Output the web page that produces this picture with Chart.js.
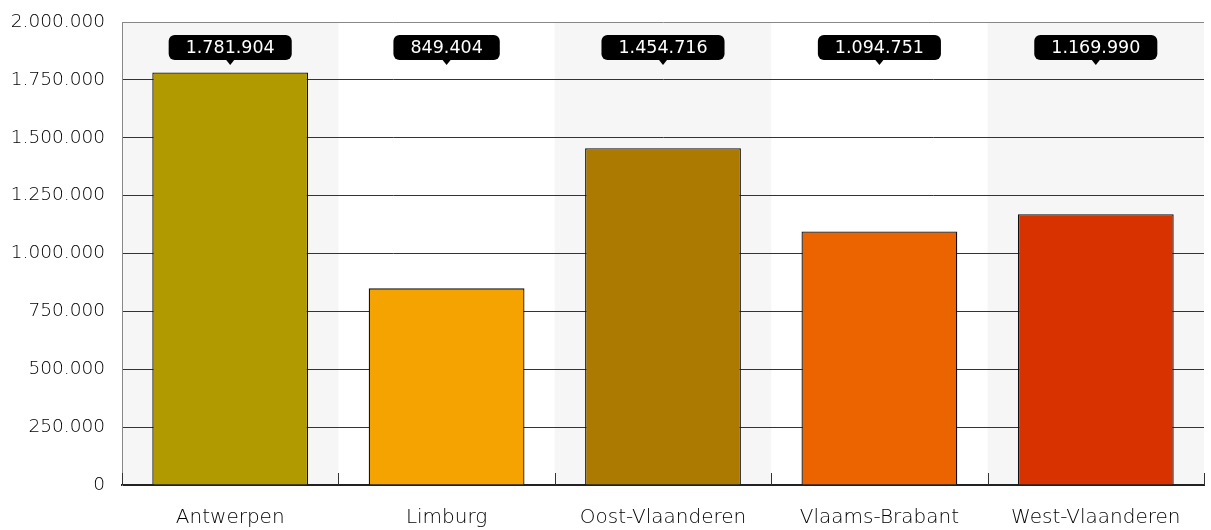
<!DOCTYPE html>
<html>
<head>
<meta charset="utf-8">
<script src="https://cdn.jsdelivr.net/npm/chart.js@4"></script>
<style>
  html, body { margin: 0; padding: 0; background: #fff; }
  #wrap { width: 1211px; height: 530px; }
</style>
</head>
<body>
<div id="wrap"><canvas id="provChart"></canvas></div>
<script>
// Inwoners per provincie
const provinces = ['Antwerpen', 'Limburg', 'Oost-Vlaanderen', 'Vlaams-Brabant', 'West-Vlaanderen'];
const population = [1781904, 849404, 1454716, 1094751, 1169990];
const barColors = ['#b09a00', '#f4a300', '#ac7a00', '#ec6400', '#d83200'];
const yTicks = [0, 250000, 500000, 750000, 1000000, 1250000, 1500000, 1750000, 2000000];

const FONT = '"DejaVu Sans", sans-serif';
const WEIGHT = 200;

// 1234567 -> 1.234.567
const fmt = v => String(Math.round(v)).replace(/\B(?=(\d{3})+(?!\d))/g, '.');

// grey bands behind every other category
const bandPlugin = {
  id: 'bands',
  beforeDraw(chart) {
    const { ctx, chartArea: a, scales: { x } } = chart;
    const half = (x.getPixelForValue(1) - x.getPixelForValue(0)) / 2;
    ctx.save();
    ctx.fillStyle = '#f6f6f6';
    provinces.forEach((p, i) => {
      if (i % 2) return;
      const c = x.getPixelForValue(i);
      ctx.fillRect(c - half, a.top, half * 2, a.bottom - a.top);
    });
    ctx.restore();
  }
};

// small ticks on the category axis + value callouts at the top
const labelPlugin = {
  id: 'callouts',
  afterDraw(chart) {
    const { ctx, chartArea: a, scales: { x } } = chart;
    const half = (x.getPixelForValue(1) - x.getPixelForValue(0)) / 2;
    ctx.save();
    ctx.strokeStyle = '#333';
    ctx.lineWidth = 1;
    for (let i = 0; i <= provinces.length; i++) {
      const px = Math.round(x.getPixelForValue(0) - half + i * half * 2) + 0.5;
      ctx.beginPath();
      ctx.moveTo(px, a.bottom - 12);
      ctx.lineTo(px, a.bottom);
      ctx.stroke();
    }

    ctx.font = '17.5px ' + FONT;
    ctx.textAlign = 'center';
    ctx.textBaseline = 'middle';
    population.forEach((v, i) => {
      const txt = fmt(v);
      const cx = x.getPixelForValue(i);
      const w = ctx.measureText(txt).width + 34;
      const h = 25;
      const top = a.top + 13;
      ctx.fillStyle = '#000';
      ctx.beginPath();
      ctx.roundRect(cx - w / 2, top, w, h, 6);
      ctx.fill();
      ctx.beginPath();
      ctx.moveTo(cx - 4, top + h);
      ctx.lineTo(cx, top + h + 5);
      ctx.lineTo(cx + 4, top + h);
      ctx.fill();
      ctx.fillStyle = '#fff';
      ctx.fillText(txt, cx, top + h / 2 + 1);
    });
    ctx.restore();
  }
};

new Chart(document.getElementById('provChart'), {
  type: 'bar',
  data: {
    labels: provinces,
    datasets: [{
      data: population,
      backgroundColor: barColors,
      borderColor: '#111',
      borderWidth: 1.3,
      barPercentage: 0.72,
      categoryPercentage: 1,
    }],
  },
  options: {
    responsive: true,
    maintainAspectRatio: false,
    animation: false,
    layout: { padding: { top: 22, right: 7, left: 0, bottom: 0 } },
    plugins: {
      legend: { display: false },
      tooltip: { enabled: false },
    },
    scales: {
      x: {
        grid: { display: false },
        border: { color: '#222', width: 2 },
        ticks: { color: '#000', font: { family: FONT, size: 20, weight: WEIGHT }, padding: 13 },
        afterFit: s => { s.height = 45; s.paddingLeft = 0; s.paddingRight = 0; },
      },
      y: {
        min: 0,
        max: 2000000,
        afterBuildTicks: s => { s.ticks = yTicks.map(v => ({ value: v })); },
        grid: {
          drawTicks: false,
          color: c => (c.tick && c.tick.value === 2000000 ? '#888' : '#333'),
        },
        border: { color: '#888', width: 1 },
        ticks: {
          color: '#000',
          font: { family: FONT, size: 18.5, weight: WEIGHT },
          padding: 17,
          callback: v => fmt(v),
        },
        afterFit: s => { s.width = 122; s.paddingTop = 0; s.paddingBottom = 0; },
      },
    },
  },
  plugins: [bandPlugin, labelPlugin],
});
</script>
</body>
</html>
